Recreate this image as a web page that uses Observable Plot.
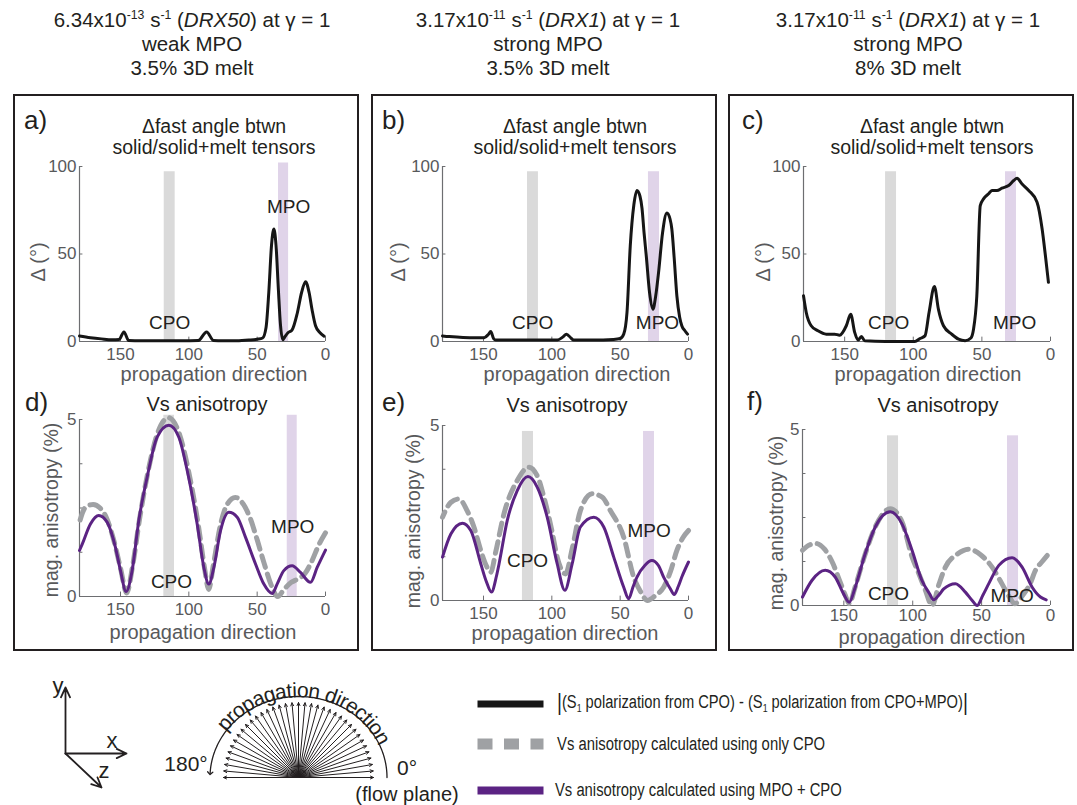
<!DOCTYPE html>
<html>
<head>
<meta charset="utf-8">
<script src="https://cdn.jsdelivr.net/npm/d3@7"></script>
<script src="https://cdn.jsdelivr.net/npm/@observablehq/plot@0.6"></script>
<style>
  body { margin: 0; background: #fff; }
  #page { position: relative; width: 1077px; height: 805px; overflow: hidden;
          font-family: "Liberation Sans", Arial, Helvetica, sans-serif; color: #231f20; }
  .abs { position: absolute; white-space: nowrap; line-height: 1; }
  .box { position: absolute; border: 2px solid #231f20; box-sizing: border-box; }
  sup { font-size: 0.6em; vertical-align: 0.6em; line-height: 0; }
  sub { font-size: 0.6em; vertical-align: -0.35em; line-height: 0; }
</style>
</head>
<body>
<div id="page"></div>
<script>
// ======================= DATA =======================
const columnLine1 = [
  "6.34x10<sup>-13</sup> s<sup>-1</sup> (<i>DRX50</i>) at γ = 1",
  "3.17x10<sup>-11</sup> s<sup>-1</sup> (<i>DRX1</i>) at γ = 1",
  "3.17x10<sup>-11</sup> s<sup>-1</sup> (<i>DRX1</i>) at γ = 1"
];
const columnLine2 = ["weak MPO", "strong MPO", "strong MPO"];
const columnLine3 = ["3.5% 3D melt", "3.5% 3D melt", "8% 3D melt"];
const panelLetters = ["a)", "b)", "c)", "d)", "e)", "f)"];
const topTitleLines = ["Δfast angle btwn", "solid/solid+melt tensors"];
const bottomTitle = "Vs anisotropy";
const xAxisLabel = "propagation direction";
const topYLabel = "Δ (°)";
const bottomYLabel = "mag. anisotropy (%)";

const dirTickLabels = [150, 100, 50, 0];
const deltaTickLabels = [0, 50, 100];
const vsTickLabels = [0, 5];
const vsTickMarks = [0, 1.25, 2.5, 3.75, 5];

// Panel a: |Δ fast angle| (°)
const dirA   = [180,172,164,156,151,147.5,144,135,120,105,93,87,82,75,65,56,50,46,43.5,41.5,39.5,37.8,36.2,34.5,33,31.3,29.5,27.5,24.5,20.7,17.5,14.6,12,9.8,7.3,4,1];
const deltaA = [3.2,2.2,1.5,1,1.2,5.5,0.6,0.4,0.4,0.4,0.6,5.5,0.6,0.4,0.4,0.8,1.3,2,8,28,55,64.3,55,30,10,1,3,5,6.5,16,28,34.2,28,18,9,5,3];
// Panel b
const dirB   = [180,175,165,155,149.5,146.5,144.7,142.5,141,130,110,96,92,89.3,86,84,70,55,50,47.4,45,42.6,40,37.7,35.5,34,32.5,30.9,28.5,26,24,21.9,19,15.8,13.5,12.2,10.5,8.5,6.5,4.9,2.5,0.7];
const deltaB = [3.2,2.8,2.3,2.2,2.2,4,5.7,1.5,0.8,0.8,0.8,0.8,2.5,4.2,2,0.8,0.8,1.2,1.7,4.2,16.6,54.8,78,86.3,83,76,62,49,28,18.5,26,39.5,62,73.5,70,64.3,48,26,14,9,6,4.2];
// Panel c
const dirC   = [180,178,174.4,169.5,163.4,157.3,153.7,148.8,145.6,142.7,140.2,137.8,135.4,120,98.8,95.1,91.5,88.5,84.6,81.7,78,72,67,62.2,58,56.1,53.7,51.2,48.8,45.1,42.7,39,35.4,30.5,26.8,24.4,20.7,15.9,9.8,6.1,3.7,1.5];
const deltaC = [26.1,16.6,9,6.1,4.2,4.2,3.6,9,15.6,5.2,0.8,2.9,0.4,0,0,1.7,3.2,16.6,31.5,18.5,9,4.2,1.3,0.4,2,7,26,77.7,81.5,84.4,86.3,86.3,87.6,89.1,92,93.3,90,86.3,79.6,64.3,49,33.8];

// Panel d: Vs anisotropy (%)
const dirDmpo = [180,178,172,165.9,159.8,153.7,150,145.9,141.5,136.6,130.5,123.2,114.6,107.3,101.2,93.9,89,85.4,81.7,76.8,70.7,64.6,58.5,51.2,45.1,39,35.4,30.5,24.4,18.3,11,6.1,0];
const vsMpoD  = [1.3,1.48,2.05,2.29,2.1,1.39,0.73,0.14,0.73,2.15,3.37,4.5,4.84,4.5,3.56,2.05,0.82,0.35,0.82,1.86,2.38,2.24,1.67,0.92,0.35,0.085,0.35,0.73,0.87,0.68,0.4,0.82,1.31];
const dirDcpo = [180,176,170,165,160,155,150,145.5,141,136,130,123,115,107,100,93,88.5,85.5,82,77,72,66,60,55,50,45,40,35,30,25,20,15,10,5,0];
const vsCpoD  = [2.1,2.5,2.6,2.5,2.2,1.6,0.8,0.1,0.9,2.2,3.5,4.6,5.05,4.6,3.5,2.0,0.8,0.2,0.9,2.0,2.6,2.8,2.6,2.2,1.6,0.95,0.35,0,0.22,0.4,0.5,0.65,1.0,1.45,1.8];
// Panel e
const dirEmpo = [180,173.9,165.4,159.3,152,148,144.2,140.5,138.6,132.6,125.3,117.5,110.7,103.4,96.1,90.5,85.1,79.1,69.3,62,54.7,47.4,43.8,40.5,37.7,32,26.8,22,18.2,13.5,10.5,7.5,4.9,0];
const vsMpoE  = [1.24,1.9,2.21,2,1.05,0.55,0.24,0.7,1.05,2.29,3.14,3.54,3.24,2.38,1.05,0.29,1.05,2.1,2.38,2.1,1.24,0.38,0.05,0.4,0.67,1.0,1.14,1.0,0.67,0.35,0.17,0.4,0.67,1.1];
const dirEcpo = [180,174,168,162,157,152,148,144.7,141,135,125.3,116.8,110,105.8,100,96.1,90,85,79.1,70.5,63,57.2,47.4,40.1,35,30,24,18.2,13,8.5,4,0];
const vsCpoE  = [2.38,2.8,2.9,2.57,2.1,1.43,1.0,0.81,1.4,2.48,3.43,3.81,3.5,2.95,2.0,1.24,0.76,1.5,2.57,3.05,2.95,2.57,1.81,0.67,0.25,0,0.15,0.38,0.85,1.43,1.8,2.0];
// Panel f
const dirFmpo = [180,173.2,163.5,156.3,150.2,146.1,141.7,134.5,127.2,116.3,107.8,100.5,93.3,88,84.8,81,77.5,69,61.8,57,53.3,49,44.8,37.5,27.9,20.6,13.3,7.3,3.1];
const vsMpoF  = [0.24,0.71,1.0,0.81,0.33,0.09,0.52,1.47,2.23,2.66,2.32,1.57,0.71,0.35,0.16,0.3,0.47,0.62,0.38,0.15,0.0,0.3,0.62,1.14,1.36,1.09,0.52,0.24,0.16];
const dirFcpo = [180,175,170,164,158,153,149,146,142,135,127,116.3,108,100.5,95,90.8,86,81,76.3,68,59.4,51,42.4,35,30,26,20,15,10.9,6,2.4];
const vsCpoF  = [1.57,1.72,1.76,1.6,1.2,0.7,0.3,0.05,0.5,1.4,2.25,2.75,2.4,1.38,0.85,0.43,0.0,0.6,1.09,1.45,1.6,1.45,1.09,0.6,0.25,0.05,0.3,0.6,1.0,1.25,1.42];

// Highlighted CPO / MPO directions (degrees, top value in axis units)
const bandsA = [{kind: "CPO", from: 118, to: 110, top: 97},   {kind: "MPO", from: 34.4, to: 27, top: 102}];
const bandsB = [{kind: "CPO", from: 117.8, to: 109.8, top: 97}, {kind: "MPO", from: 29.3, to: 21.2, top: 97}];
const bandsC = [{kind: "CPO", from: 120.2, to: 112.2, top: 97}, {kind: "MPO", from: 32.8, to: 24.8, top: 97}];
const bandsD = [{kind: "CPO", from: 118.3, to: 110.5, top: 5.12}, {kind: "MPO", from: 28, to: 20.7, top: 5.12}];
const bandsE = [{kind: "CPO", from: 121.5, to: 113.4, top: 4.83}, {kind: "MPO", from: 32.9, to: 24.9, top: 4.83}];
const bandsF = [{kind: "CPO", from: 118.3, to: 110.3, top: 4.82}, {kind: "MPO", from: 31.2, to: 23.2, top: 4.82}];

const notesA = [{label: "CPO", dir: 114, val: 10.9},   {label: "MPO", dir: 27, val: 77}];
const notesB = [{label: "CPO", dir: 114, val: 10.9},   {label: "MPO", dir: 22.7, val: 10.9}];
const notesC = [{label: "CPO", dir: 118, val: 10.9},   {label: "MPO", dir: 26.2, val: 10.9}];
const notesD = [{label: "CPO", dir: 112.7, val: 0.4},  {label: "MPO", dir: 24, val: 1.98}];
const notesE = [{label: "CPO", dir: 117.8, val: 1.14}, {label: "MPO", dir: 28.8, val: 2.0}];
const notesF = [{label: "CPO", dir: 117.6, val: 0.33}, {label: "MPO", dir: 27.8, val: 0.28}];

const legendLabels = [
  '<span style="font-size:1.3em;vertical-align:-0.08em">|</span>(S<sub>1</sub> polarization from CPO) - (S<sub>1</sub> polarization from CPO+MPO)<span style="font-size:1.3em;vertical-align:-0.08em">|</span>',
  "Vs anisotropy calculated using only CPO",
  "Vs anisotropy calculated using MPO + CPO"
];
const fanAngles = d3.range(0, 181, 5);   // propagation directions in the inset
const arcText = "propagation direction";
const flowLabels = ["180°", "0°", "(flow plane)"];

// ======================= STYLE / LAYOUT =======================
const FONT = '"Liberation Sans", Arial, Helvetica, sans-serif';
const INK = "#231f20", AXIS = "#6d6e71", TICKTXT = "#58595b";
const C_BLACK = "#161616", C_GRAY = "#9fa1a4", C_PURPLE = "#5b2383";
const BAND_CPO = "#dadada", BAND_MPO = "#e0d4e9";

const page = document.getElementById("page");
const zip = (xs, ys) => xs.map((d, i) => ({dir: d, val: ys[i]})).sort((a, b) => a.dir - b.dir);

function label(html, x, y, o = {}) {
  const el = document.createElement("div");
  el.className = "abs";
  el.innerHTML = html;
  el.style.fontSize = (o.size || 20) + "px";
  el.style.color = o.color || INK;
  el.style.left = x + "px";
  el.style.top = y + "px";
  const ax = o.anchor === "start" ? "0" : "-50%";
  el.style.transform = `translate(${ax},-50%)` + (o.rotate ? ` rotate(${o.rotate}deg)` : "");
  page.appendChild(el);
  return el;
}
function box(l, t, r, b) {
  const el = document.createElement("div");
  el.className = "box";
  Object.assign(el.style, {left: l + "px", top: t + "px", width: (r - l) + "px", height: (b - t) + "px"});
  page.appendChild(el);
}
function place(svg, left, top) {
  svg.style.position = "absolute";
  svg.style.left = left + "px";
  svg.style.top = top + "px";
  svg.style.background = "none";
  svg.style.overflow = "visible";
  svg.style.maxWidth = "none";
  page.appendChild(svg);
}

function panel(cfg) {
  const yMax = cfg.yMax;
  const marks = [
    Plot.rect(cfg.bands.filter(b => b.kind === "CPO"), {x1: "from", x2: "to", y1: 0, y2: "top", fill: BAND_CPO}),
    Plot.rect(cfg.bands.filter(b => b.kind === "MPO"), {x1: "from", x2: "to", y1: 0, y2: "top", fill: BAND_MPO}),
    Plot.ruleY([0], {stroke: AXIS, strokeWidth: 1.2}),
    Plot.ruleX([180], {stroke: AXIS, strokeWidth: 1.2}),
    Plot.ruleX(dirTickLabels, {y1: 0, y2: yMax * 0.025, stroke: AXIS}),
    Plot.ruleY(cfg.yMarks, {x1: 180, x2: 177.5, stroke: AXIS}),
    Plot.axisX(dirTickLabels, {tickSize: 0, tickPadding: cfg.xPad ?? 6, fontSize: 17, color: TICKTXT, label: null}),
    Plot.axisY(cfg.yTicks, {tickSize: 0, tickPadding: 3, fontSize: 17, color: TICKTXT, label: null})
  ];
  for (const s of cfg.series) {
    marks.push(Plot.line(s.data, {x: "dir", y: "val", curve: "monotone-x", ...s.style}));
  }
  marks.push(Plot.text(cfg.notes, {x: "dir", y: "val", text: "label", fontSize: 19, fill: INK}));
  const svg = Plot.plot({
    width: cfg.width, height: cfg.height,
    marginLeft: cfg.m[3], marginRight: cfg.m[1], marginTop: cfg.m[0], marginBottom: cfg.m[2],
    x: {domain: [180, 0]}, y: {domain: [0, yMax]},
    style: {fontFamily: FONT, fontSize: "17px", background: "none", overflow: "visible"},
    marks
  });
  place(svg, cfg.left, cfg.top);
}

const blackStyle  = {stroke: C_BLACK, strokeWidth: 3};
const grayStyle   = {stroke: C_GRAY, strokeWidth: 5, strokeDasharray: "12,7"};
const purpleStyle = {stroke: C_PURPLE, strokeWidth: 3};

// ---- boxes
box(13, 94, 359, 651);
box(371, 94, 717, 651);
box(728, 94, 1074, 651);

// ---- column titles
const colX = [192, 548, 908];
colX.forEach((x, i) => {
  label(columnLine1[i], x, 20, {size: 20.5});
  label(columnLine2[i], x, 44, {size: 20.5});
  label(columnLine3[i], x, 68, {size: 20.5});
});

// ---- top row panels
const topCommon = {top: 150, width: 346, height: 220, yMax: 100, yTicks: deltaTickLabels, yMarks: deltaTickLabels};
panel({...topCommon, left: 14,  m: [16, 35, 29, 65], bands: bandsA, notes: notesA, series: [{data: zip(dirA, deltaA), style: blackStyle}]});
panel({...topCommon, left: 372, m: [16, 30, 29, 70], bands: bandsB, notes: notesB, series: [{data: zip(dirB, deltaB), style: blackStyle}]});
panel({...topCommon, left: 729, m: [16, 25, 29, 74], bands: bandsC, notes: notesC, series: [{data: zip(dirC, deltaC), style: blackStyle}]});

// ---- bottom row panels
const botCommon = {top: 395, width: 346, height: 235, yMax: 5, yTicks: vsTickLabels, yMarks: vsTickMarks};
panel({...botCommon, left: 14,  m: [24, 35, 34, 65], bands: bandsD, notes: notesD,
  series: [{data: zip(dirDcpo, vsCpoD), style: grayStyle}, {data: zip(dirDmpo, vsMpoD), style: purpleStyle}]});
panel({...botCommon, left: 372, m: [30, 30, 30, 70], bands: bandsE, notes: notesE,
  series: [{data: zip(dirEcpo, vsCpoE), style: grayStyle}, {data: zip(dirEmpo, vsMpoE), style: purpleStyle}]});
panel({...botCommon, left: 729, m: [34, 25, 25, 73], bands: bandsF, notes: notesF, xPad: 3,
  series: [{data: zip(dirFcpo, vsCpoF), style: grayStyle}, {data: zip(dirFmpo, vsMpoF), style: purpleStyle}]});

// ---- panel texts
const letterPos = [[24, 120], [382, 120], [742, 120], [25, 402], [382, 402], [747, 401]];
letterPos.forEach(([x, y], i) => label(panelLetters[i], x, y, {size: 26, anchor: "start"}));
[214, 575, 932].forEach(x => {
  label(topTitleLines[0], x, 127, {size: 19.5});
  label(topTitleLines[1], x, 148, {size: 19.5});
});
[[207, 404], [567, 405], [938, 405]].forEach(([x, y]) => label(bottomTitle, x, y, {size: 20}));
[[214, 374], [577, 374], [928, 374], [203, 632], [565, 633], [932, 637]].forEach(([x, y]) =>
  label(xAxisLabel, x, y, {size: 20, color: TICKTXT}));
[[38, 262], [398, 262], [763, 262]].forEach(([x, y]) => label(topYLabel, x, y, {size: 20, color: TICKTXT, rotate: -90}));
[[52, 510], [414, 521], [777, 523]].forEach(([x, y]) => label(bottomYLabel, x, y, {size: 19.5, color: TICKTXT, rotate: -90}));

// ======================= BOTTOM: inset diagram + legend =======================
const B_TOP = 660;
const FAN = {cx: 298, cy: 117, r: 75};
const ARC = {a: 88.5, b: 81};       // outer arc (ellipse semi-axes)
const TXT = {a: 94, b: 87};         // caption path (ellipse semi-axes)
const AX = {ox: 65, oy: 93};
const axisArrows = [
  {x2: AX.ox, y2: 27}, {x2: 126, y2: AX.oy}, {x2: 101, y2: 127}
];
const rad = a => a * Math.PI / 180;
const fan = fanAngles.map(a => ({a}));
const arcPts = d3.range(0, 177.01, 1).map(a => ({x: FAN.cx + ARC.a * Math.cos(rad(a)), y: FAN.cy - ARC.b * Math.sin(rad(a))}));

// characters of the arc caption placed along an elliptical path
const ctx = document.createElement("canvas").getContext("2d");
const ARC_FS = 21;
ctx.font = `${ARC_FS}px "Liberation Sans"`;
const widths = [...arcText].map(ch => ctx.measureText(ch).width);
const totalW = d3.sum(widths);
const NS = 3600;
const samp = d3.range(NS + 1).map(i => {
  const t = 180 - i * 180 / NS;
  return {t, x: FAN.cx + TXT.a * Math.cos(rad(t)), y: FAN.cy - TXT.b * Math.sin(rad(t))};
});
let sAcc = 0;
samp.forEach((p, i) => { if (i) sAcc += Math.hypot(p.x - samp[i - 1].x, p.y - samp[i - 1].y); p.s = sAcc; });
const midAngle = 84.6;
const sMid = samp[Math.round((180 - midAngle) / 180 * NS)].s;
const bis = d3.bisector(p => p.s).left;
let acc = 0;
const arcChars = [...arcText].map((ch, i) => {
  const target = sMid - totalW / 2 + acc + widths[i] / 2; acc += widths[i];
  const p = samp[Math.min(NS, bis(samp, target))];
  const t = rad(p.t);
  const rot = Math.atan2(TXT.b * Math.cos(t), TXT.a * Math.sin(t)) * 180 / Math.PI;
  return {ch, x: p.x, y: p.y, rot};
});

const legendRows = [
  {y: 43.5, stroke: C_BLACK, strokeWidth: 7},
  {y: 83.5, stroke: C_GRAY, strokeWidth: 11, strokeDasharray: "15,11.5"},
  {y: 130, stroke: C_PURPLE, strokeWidth: 8}
];

const bottom = Plot.plot({
  width: 1077, height: 145, margin: 0,
  x: {domain: [0, 1077], range: [0, 1077], axis: null},
  y: {domain: [0, 145], range: [0, 145], axis: null},
  style: {fontFamily: FONT, background: "none", overflow: "visible"},
  marks: [
    Plot.arrow(axisArrows, {x1: () => AX.ox, y1: () => AX.oy, x2: "x2", y2: "y2", stroke: INK, strokeWidth: 1.8, headLength: 9, headAngle: 50}),
    Plot.arrow(fan, {
      x1: () => FAN.cx, y1: () => FAN.cy,
      x2: d => FAN.cx + FAN.r * Math.cos(rad(d.a)), y2: d => FAN.cy - FAN.r * Math.sin(rad(d.a)),
      stroke: INK, strokeWidth: 1, headLength: 5, headAngle: 50
    }),
    Plot.line(arcPts, {x: "x", y: "y", stroke: INK, strokeWidth: 1.3, markerEnd: "arrow"}),
    Plot.text(arcChars, {x: "x", y: "y", text: "ch", rotate: "rot", fontSize: ARC_FS, fill: INK, lineAnchor: "middle"}),
    ...legendRows.map(r => Plot.link([r], {x1: () => 477, x2: () => 543, y1: () => r.y, y2: () => r.y,
      stroke: r.stroke, strokeWidth: r.strokeWidth, strokeDasharray: r.strokeDasharray}))
  ]
});
place(bottom, 0, B_TOP);

label("y", 58, B_TOP + 26, {size: 22});
label("x", 112, B_TOP + 81, {size: 22});
label("z", 104, B_TOP + 111, {size: 22});
label(flowLabels[0], 186, B_TOP + 103, {size: 21});
label(flowLabels[1], 407, B_TOP + 107, {size: 21});
label(flowLabels[2], 407, B_TOP + 134, {size: 20});

const legendPos = [[557, 703, 411], [557, 743.5, 268], [555, 790, 287]];
legendPos.forEach(([x, y, w], i) => {
  const el = label(legendLabels[i], x, y, {size: 18, anchor: "start"});
  const natural = el.offsetWidth;
  el.style.transformOrigin = "0 50%";
  el.style.transform = `translate(0,-50%) scaleX(${w / natural})`;
});
</script>
</body>
</html>
